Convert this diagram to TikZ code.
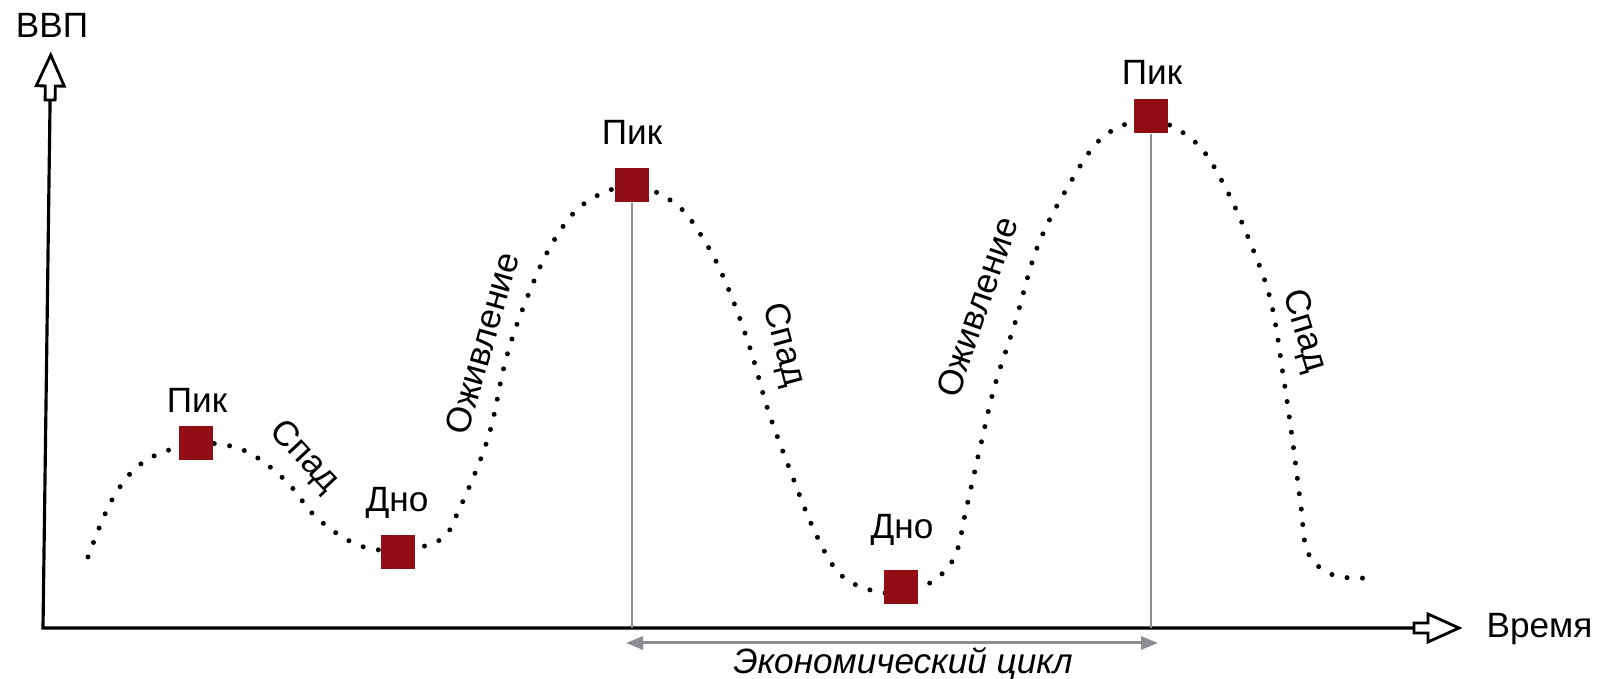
\documentclass[tikz,border=0pt]{standalone}
\usepackage{fontspec}
\setmainfont{Liberation Sans}
\definecolor{peakred}{RGB}{145, 14, 20}
\definecolor{cyclegray}{RGB}{140, 140, 145}
\usetikzlibrary{arrows.meta, calc}

\newcommand{\axistip}[2]{%
  \draw[axishead, shift={(#1)}, rotate=#2] (-0.45,-0.05) -- (-0.31,-0.05) -- (-0.31,-0.14) -- (0,0)
    -- (-0.31,0.14) -- (-0.31,0.05) -- (-0.45,0.05) -- cycle;}

\begin{document}
\begin{tikzpicture}[
  lbl/.style={font=\fontsize{10}{12}\selectfont, inner sep=0pt},
  marker/.style={draw=none, fill=peakred, minimum size=0.34cm, inner sep=0pt},
  axisline/.style={line width=0.9pt, black},
  axishead/.style={line width=0.8pt, black, fill=white, line join=miter},
  gdp/.style={line width=0.05cm, line cap=round, dash pattern=on 0pt off 0.155cm},
  guide/.style={line width=0.7pt, cyclegray}
]
  \useasboundingbox (-0.43,-0.51) rectangle (15.56,6.28);

  % Axes
  \coordinate (o) at (0,0);
  \coordinate (ytip) at (0.077,5.73);
  \coordinate (xtip) at (14.16,0);
  \draw[axisline] (ytip) -- (o) -- (xtip);
  \axistip{ytip}{89.23}
  \axistip{xtip}{0}
  \node[lbl, anchor=base] (ylab) at (0.09,5.90) {ВВП};
  \node[lbl, anchor=base west] (xlab) at (14.43,-0.10) {Время};

  % GDP curve
  \draw[gdp] plot[smooth, tension=0.6] coordinates {
    (0.45,0.71) (0.70,1.30) (1.02,1.67) (1.53,1.84) (2.00,1.78) (2.42,1.48)
    (2.74,1.10) (3.15,0.83) (3.55,0.78) (3.97,0.88) (4.15,1.16) (4.45,1.90)
    (4.63,2.69) (4.84,3.30) (5.10,3.86) (5.42,4.25) (5.89,4.42) (6.34,4.23)
    (6.64,3.83) (6.85,3.40) (7.07,2.80) (7.25,2.18) (7.47,1.58) (7.71,0.98)
    (7.95,0.56) (8.24,0.39) (8.58,0.35) (8.90,0.47) (9.12,0.72) (9.23,1.18)
    (9.37,1.80) (9.52,2.43) (9.72,3.05) (9.94,3.80) (10.23,4.38) (10.60,4.91)
    (11.08,5.08) (11.52,4.86) (11.80,4.45) (12.07,3.86) (12.28,3.26) (12.41,2.47)
    (12.50,1.84) (12.58,1.21) (12.65,0.75) (12.90,0.53) (13.25,0.50)};

  % Peaks and troughs
  \node[marker] (pk1) at (1.53,1.85) {};
  \node[marker] (dn1) at (3.55,0.76) {};
  \node[marker] (pk2) at (5.89,4.43) {};
  \node[marker] (dn2) at (8.58,0.41) {};
  \node[marker] (pk3) at (11.08,5.12) {};
  \draw[guide] (pk2.south) -- (pk2 |- o);
  \draw[guide] (pk3.south) -- (pk3 |- o);

  \node[lbl, anchor=base] (lpk1) at (1.54,2.15) {Пик};
  \node[lbl, anchor=base] (lpk2) at (5.89,4.83) {Пик};
  \node[lbl, anchor=base] (lpk3) at (11.09,5.43) {Пик};
  \node[lbl, anchor=base] (ldn1) at (3.54,1.16) {Дно};
  \node[lbl, anchor=base] (ldn2) at (8.59,0.89) {Дно};

  % Phases
  \node[lbl, rotate=-47] (sp1) at (2.61,1.71) {Спад};
  \node[lbl, rotate=74] (ozh1) at (4.39,2.85) {Оживление};
  \node[lbl, rotate=-75] (sp2) at (7.40,2.83) {Спад};
  \node[lbl, rotate=71] (ozh2) at (9.34,3.21) {Оживление};
  \node[lbl, rotate=-73] (sp3) at (12.61,2.97) {Спад};

  % Cycle
  \coordinate (cycL) at (5.83,-0.15);
  \coordinate (cycR) at (11.15,-0.15);
  \draw[{Triangle[length=0.17cm, width=0.13cm]}-{Triangle[length=0.17cm, width=0.13cm]}, line width=0.85pt, cyclegray] (cycL) -- (cycR);
  \node[lbl, anchor=base, font=\fontsize{10}{12}\selectfont\itshape] (cyc) at (8.60,-0.46) {Экономический цикл};
\end{tikzpicture}
\end{document}
